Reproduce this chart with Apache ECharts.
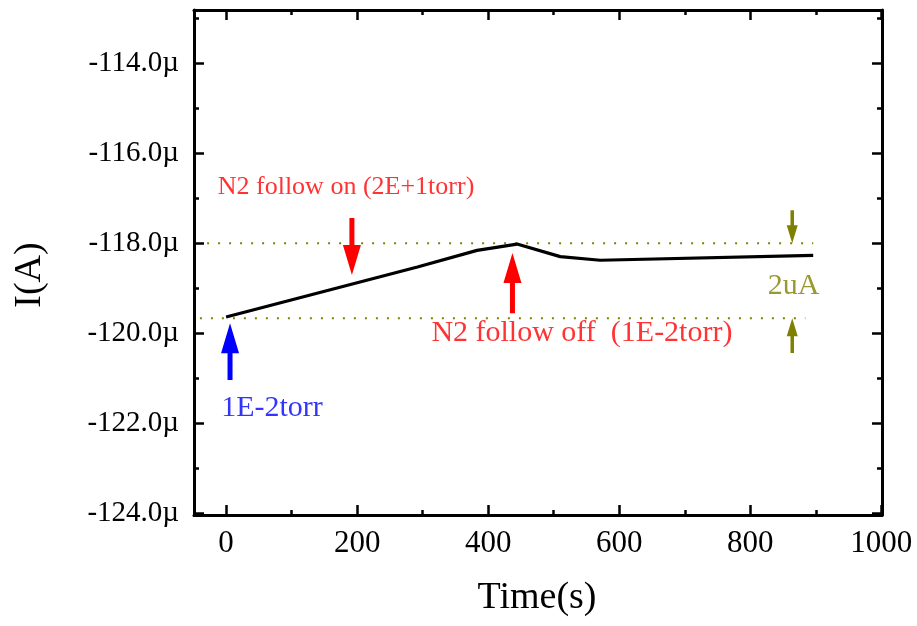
<!DOCTYPE html>
<html>
<head>
<meta charset="utf-8">
<script src="https://cdn.jsdelivr.net/npm/echarts@6/dist/echarts.min.js"></script>
<style>html,body{margin:0;padding:0;background:#fff}#c{width:917px;height:626px}</style>
</head>
<body>
<div id="c"></div>
<script>
// ---- data ----
const timeS = [0, 292, 383, 444, 510, 571, 896];
const currentMicroA = [-119.64, -118.53, -118.16, -118.02, -118.30, -118.38, -118.27];

const xMajorTicks = [0, 200, 400, 600, 800, 1000];
const xMinorTicks = [100, 300, 500, 700, 900];
const yMajorTicks = [-124, -122, -120, -118, -116, -114];
const yMinorTicks = [-123, -121, -119, -117, -115, -113];

const upperRefX = [-29, 896];
const upperRefY = [-118.0, -118.0];
const lowerRefX = [-40, 884];
const lowerRefY = [-119.67, -119.67];

// arrows: [x, yFrom(tail), yTo(tip)]
const blueArrows = [[6, -121.04, -119.78]];
const redArrows = [[192, -117.44, -118.71], [437, -119.56, -118.22]];
const oliveArrows = [[864, -117.27, -118.0], [864, -120.44, -119.67]];

const redTextsSmall = [[183, -116.76, 'N2 follow on (2E+1torr)']];
const redTexts = [[543, -120.0, 'N2 follow off  (1E-2torr)']];
const blueTexts = [[70, -121.67, '1E-2torr']];
const oliveTexts = [[866, -118.96, '2uA']];

// ---- chart ----
const FONT = '"Liberation Serif", "Times New Roman", serif';
const chart = echarts.init(document.getElementById('c'), null, {renderer: 'canvas'});

function arrowSeries(data, color, headW, headL, shaftW) {
  return {
    type: 'custom',
    xAxisIndex: 0, yAxisIndex: 0,
    data: data,
    silent: true,
    z: 5,
    renderItem: function (params, api) {
      const x = api.value(0);
      const p0 = api.coord([x, api.value(1)]);
      const p1 = api.coord([x, api.value(2)]);
      const dir = p1[1] > p0[1] ? 1 : -1;
      const by = p1[1] - dir * headL;
      const cx = p1[0];
      const pts = [
        [cx - shaftW / 2, p0[1]], [cx + shaftW / 2, p0[1]],
        [cx + shaftW / 2, by], [cx + headW / 2, by],
        [cx, p1[1]],
        [cx - headW / 2, by], [cx - shaftW / 2, by]
      ];
      return {type: 'polygon', shape: {points: pts}, style: {fill: color}};
    }
  };
}

function textSeries(data, color, size) {
  return {
    type: 'scatter',
    xAxisIndex: 0, yAxisIndex: 0,
    symbolSize: 0,
    silent: true,
    data: data.map(d => ({value: [d[0], d[1]], name: d[2]})),
    label: {
      show: true, position: 'inside', formatter: p => p.name,
      color: color, fontFamily: FONT, fontSize: size, textBorderWidth: 0
    },
    z: 6
  };
}

function axisBase(extra) {
  return Object.assign({
    type: 'value',
    splitLine: {show: false},
    axisLine: {show: false, onZero: false},
    axisLabel: {show: false},
    axisTick: {show: false}
  }, extra);
}

const tickLine = {color: '#000', width: 2.5};

const option = {
  animation: false,
  backgroundColor: '#fff',
  grid: {left: 194, right: 35, top: 10, bottom: 111, containLabel: false},
  xAxis: [
    axisBase({position: 'bottom', min: -49, max: 1001,
      axisLine: {show: true, onZero: false, lineStyle: {color: '#000', width: 3}},
      axisTick: {show: true, inside: true, length: 10, customValues: xMajorTicks, lineStyle: tickLine},
      axisLabel: {show: true, customValues: xMajorTicks, margin: 13, color: '#000', fontFamily: FONT, fontSize: 31,
        formatter: v => String(v)}
    }),
    axisBase({position: 'bottom', min: -49, max: 1001,
      axisTick: {show: true, inside: true, length: 5, customValues: xMinorTicks, lineStyle: tickLine}
    }),
    axisBase({position: 'top', min: -49, max: 1001,
      axisLine: {show: true, onZero: false, lineStyle: {color: '#000', width: 3}},
      axisTick: {show: true, inside: true, length: 10, customValues: xMajorTicks, lineStyle: tickLine}
    }),
    axisBase({position: 'top', min: -49, max: 1001,
      axisTick: {show: true, inside: true, length: 5, customValues: xMinorTicks, lineStyle: tickLine}
    })
  ],
  yAxis: [
    axisBase({position: 'left', min: -124.04, max: -112.82,
      axisLine: {show: true, onZero: false, lineStyle: {color: '#000', width: 3}},
      axisTick: {show: true, inside: true, length: 10, customValues: yMajorTicks, lineStyle: tickLine},
      axisLabel: {show: true, customValues: yMajorTicks, margin: 15, color: '#000', fontFamily: FONT, fontSize: 29,
        formatter: v => Number(v).toFixed(1) + 'µ'}
    }),
    axisBase({position: 'left', min: -124.04, max: -112.82,
      axisTick: {show: true, inside: true, length: 5, customValues: yMinorTicks, lineStyle: tickLine}
    }),
    axisBase({position: 'right', min: -124.04, max: -112.82,
      axisLine: {show: true, onZero: false, lineStyle: {color: '#000', width: 3}},
      axisTick: {show: true, inside: true, length: 10, customValues: yMajorTicks, lineStyle: tickLine}
    }),
    axisBase({position: 'right', min: -124.04, max: -112.82,
      axisTick: {show: true, inside: true, length: 5, customValues: yMinorTicks, lineStyle: tickLine}
    })
  ],
  graphic: [
    {type: 'text', x: 537, y: 598,
      style: {text: 'Time(s)', fontFamily: FONT, fontSize: 38, fill: '#000', align: 'center', verticalAlign: 'middle'}},
    {type: 'text', x: 30, y: 275, rotation: Math.PI / 2,
      style: {text: 'I(A)', fontFamily: FONT, fontSize: 38, fill: '#000', align: 'center', verticalAlign: 'middle'}}
  ],
  series: [
    {
      type: 'line', xAxisIndex: 0, yAxisIndex: 0,
      data: upperRefX.map((x, i) => [x, upperRefY[i]]),
      symbol: 'none', silent: true,
      lineStyle: {color: '#808000', width: 2, type: [2, 9]}, z: 2
    },
    {
      type: 'line', xAxisIndex: 0, yAxisIndex: 0,
      data: lowerRefX.map((x, i) => [x, lowerRefY[i]]),
      symbol: 'none', silent: true,
      lineStyle: {color: '#808000', width: 2, type: [2, 9]}, z: 2
    },
    {
      type: 'line', xAxisIndex: 0, yAxisIndex: 0,
      data: timeS.map((t, i) => [t, currentMicroA[i]]),
      symbol: 'none', silent: true,
      lineStyle: {color: '#000', width: 3.2}, z: 4
    },
    arrowSeries(blueArrows, '#0000ff', 18, 30, 5),
    arrowSeries(redArrows, '#ff0000', 18, 30, 5),
    arrowSeries(oliveArrows, '#808000', 11, 18, 3.5),
    textSeries(redTextsSmall, '#ff0000', 26),
    textSeries(redTexts, '#ff0000', 30),
    textSeries(blueTexts, '#0000ff', 30),
    textSeries(oliveTexts, '#808000', 30)
  ]
};
chart.setOption(option);
</script>
</body>
</html>
